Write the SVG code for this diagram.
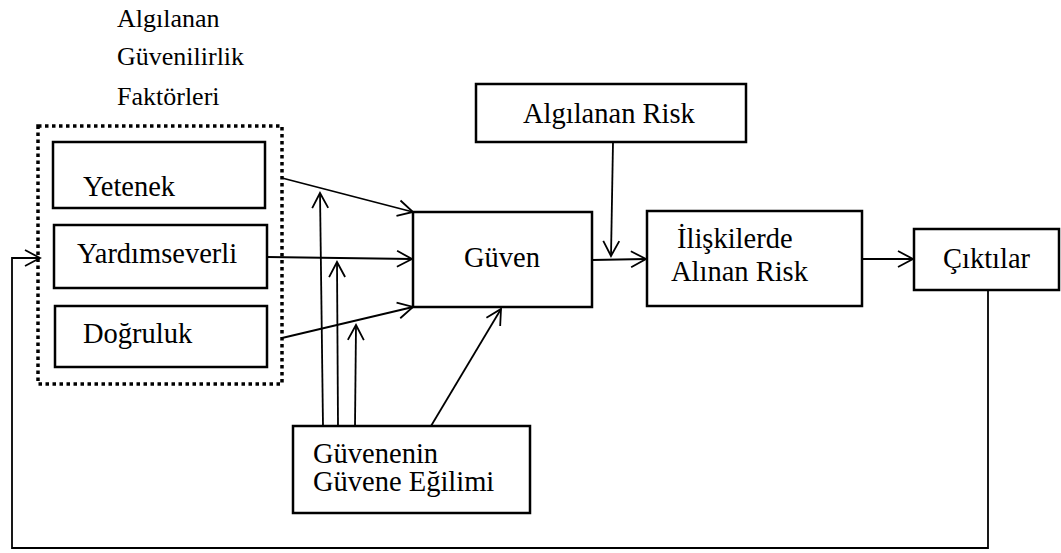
<svg xmlns="http://www.w3.org/2000/svg" width="1061" height="553" viewBox="0 0 1061 553">
  <style>
    .box { fill: #fff; stroke: #000; stroke-width: 2.5; }
    .group { fill: none; stroke: #000; stroke-width: 3.5; stroke-dasharray: 3.5 3.5; }
    .lbl { font-family: "Liberation Serif", "Times New Roman", serif; font-size: 28.5px; fill: #000; }
    .title { font-size: 26px; }
    .conn { fill: none; stroke: #000; stroke-width: 1.8; }
    .arr { marker-end: url(#open); }
  </style>
  <defs>
    <marker id="open" markerUnits="userSpaceOnUse" markerWidth="20" markerHeight="20" viewBox="-1 -10 18 20" refX="15" refY="0" orient="auto">
      <path d="M0,-8 L15,0 L0,8" fill="none" stroke="#000" stroke-width="1.8"/>
    </marker>
  </defs>
  <rect width="1061" height="553" fill="#fff"/>

  <!-- group title -->
  <g id="factors-title">
    <text class="lbl title" x="117" y="27">Algılanan</text>
    <text class="lbl title" x="117" y="65">Güvenilirlik</text>
    <text class="lbl title" x="117" y="105">Faktörleri</text>
  </g>

  <!-- dotted frame around the three factors -->
  <g id="factors">
    <rect class="group" x="38" y="126" width="244" height="258"/>
  </g>

  <g id="yetenek">
    <rect class="box" x="53" y="142" width="212" height="66"/>
    <text class="lbl" x="83" y="196">Yetenek</text>
  </g>
  <g id="yardimseverlik">
    <rect class="box" x="54" y="225" width="213" height="63"/>
    <text class="lbl" x="77" y="263">Yardımseverli</text>
  </g>
  <g id="dogruluk">
    <rect class="box" x="55" y="306" width="212" height="61"/>
    <text class="lbl" x="83" y="343">Doğruluk</text>
  </g>

  <g id="guven">
    <rect class="box" x="413" y="212" width="179" height="95"/>
    <text class="lbl" x="464" y="267">Güven</text>
  </g>

  <g id="algilanan-risk">
    <rect class="box" x="476" y="84" width="270" height="58"/>
    <text class="lbl" x="523" y="123">Algılanan Risk</text>
  </g>

  <g id="iliskilerde-risk">
    <rect class="box" x="647" y="211" width="215" height="95"/>
    <text class="lbl" x="677" y="248">İlişkilerde</text>
    <text class="lbl" x="671" y="281">Alınan Risk</text>
  </g>

  <g id="ciktilar">
    <rect class="box" x="914" y="229" width="145" height="61"/>
    <text class="lbl" x="943" y="268">Çıktılar</text>
  </g>

  <g id="egilim">
    <rect class="box" x="293" y="426" width="237" height="87"/>
    <text class="lbl" x="313" y="463">Güvenenin</text>
    <text class="lbl" x="313" y="491">Güvene Eğilimi</text>
  </g>

  <!-- connectors -->
  <g id="connectors">
    <line class="conn arr" x1="282" y1="178" x2="413" y2="212"/>
    <line class="conn arr" x1="267" y1="257" x2="412" y2="259"/>
    <line class="conn arr" x1="282" y1="338" x2="413" y2="307"/>

    <line class="conn arr" x1="323" y1="426" x2="320" y2="193"/>
    <line class="conn arr" x1="338" y1="426" x2="337" y2="262"/>
    <line class="conn arr" x1="355" y1="426" x2="356" y2="325"/>
    <line class="conn arr" x1="431" y1="426" x2="501" y2="309"/>

    <line class="conn arr" x1="613" y1="142" x2="611" y2="256"/>
    <line class="conn arr" x1="592" y1="260" x2="646" y2="259"/>
    <line class="conn arr" x1="862" y1="259" x2="913" y2="259"/>

    <polyline class="conn arr" points="988,290 988,548 12,548 12,258 40,258"/>
  </g>
</svg>
